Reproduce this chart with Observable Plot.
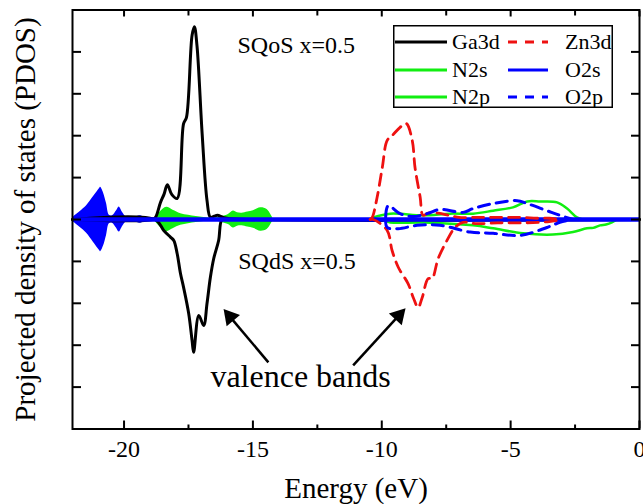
<!DOCTYPE html>
<html><head><meta charset="utf-8">
<script src="https://cdn.jsdelivr.net/npm/d3@7"></script>
<script src="https://cdn.jsdelivr.net/npm/@observablehq/plot@0.6"></script>
<style>
body{margin:0;background:#fff;}
#wrap{position:relative;width:643px;height:504px;font-family:"Liberation Serif",serif;}
#legend{position:absolute;left:393px;top:25px;}
</style></head><body><div id="wrap"></div>
<script>
// ---- data ----
const xTicks = [-20, -15, -10, -5, 0];
const xMinor = [-17.5, -12.5, -7.5, -2.5];
const yTicks = [-4, -3, -2, -1, 0, 1, 2, 3, 4];

const ga3dUpE = [-22, -18.9, -18.78, -18.59, -18.45, -18.32, -18.15, -17.94, -17.69, -17.58, -17.36, -17.27, -17.17, -16.97, -16.78, -16.65, -16.5, -16.38, -16.15, -15.9, 0];
const ga3dUpV = [0, 0, 0.05, 0.4, 0.6, 0.83, 0.6, 0.5, 2.29, 2.43, 4.4, 4.6, 4.15, 2.05, 0.45, 0.05, 0.08, 0.1, 0.05, 0.02, 0];
const ga3dDnE = [-22, -18.8, -18.46, -18.2, -18.07, -17.94, -17.81, -17.69, -17.49, -17.36, -17.3, -17.1, -16.91, -16.78, -16.65, -16.52, -16.33, -16.2, -16.0, 0];
const ga3dDnV = [0, 0, -0.26, -0.42, -0.5, -0.81, -1.29, -1.62, -2.25, -2.89, -3.17, -2.29, -2.53, -2.0, -1.38, -0.93, -0.5, 0, 0, 0];

const zn3dUpE = [-10.45, -10.37, -10.18, -9.98, -9.79, -9.6, -9.29, -9.05, -8.82, -8.71, -8.51, -8.4, -8.2, -7.8, -7.4, -7.0, -6.5, -6.0, -5.5, -5.0, -4.5, -4.0, -3.5, -3.1];
const zn3dUpV = [0, 0.05, 0.53, 1.24, 1.89, 2.0, 2.2, 2.29, 1.89, 1.24, 0.53, 0.1, 0.15, 0.15, 0.1, 0.05, 0.05, 0.05, 0.05, 0.05, 0.05, 0.03, 0.03, 0];
const zn3dDnE = [-10.45, -10.33, -9.79, -9.6, -9.36, -8.98, -8.78, -8.59, -8.43, -8.2, -8.05, -7.81, -7.47, -7.16, -6.85, -6.3, -5.5, -4.5, -3.5, -3.0];
const zn3dDnV = [0, 0, -0.26, -0.74, -1.14, -1.53, -1.86, -2.1, -1.86, -1.41, -1.41, -0.93, -0.5, -0.19, -0.07, -0.1, -0.08, -0.08, -0.05, 0];

const o2pUpE = [-9.85, -9.75, -9.29, -8.78, -8.24, -7.74, -6.84, -6.46, -5.68, -4.75, -4.36, -3.59, -3.09, -2.58];
const o2pUpV = [0.05, 0.33, 0.14, 0.07, 0.14, 0.24, 0.17, 0.26, 0.38, 0.45, 0.38, 0.21, 0.1, 0];
const o2pDnE = [-9.85, -9.79, -9.36, -8.63, -7.74, -6.57, -5.68, -4.64, -3.59, -3.09, -2.58];
const o2pDnV = [0, -0.19, -0.22, -0.14, -0.14, -0.3, -0.33, -0.38, -0.19, -0.07, 0];

const n2pUpE = [-10.33, -9.67, -8.4, -7.35, -6.46, -5.68, -4.91, -4.36, -3.86, -3.2, -2.81, -2.43, -2.2];
const n2pUpV = [0.05, 0.14, 0.1, 0.14, 0.14, 0.21, 0.29, 0.43, 0.43, 0.41, 0.26, 0.05, 0];
const n2pDnE = [-10.0, -9.67, -8.4, -6.46, -5.68, -4.52, -3.36, -2.58, -2.04, -1.8, -1.53, -1.3, -1.07, -0.88];
const n2pDnV = [0, -0.07, -0.07, -0.14, -0.21, -0.33, -0.36, -0.3, -0.21, -0.2, -0.14, -0.12, -0.07, 0];

const n2sE = [-18.85, -18.6, -18.35, -18.1, -17.8, -17.5, -17.2, -16.9, -16.6, -16.4, -16.2, -15.95, -15.76, -15.6, -15.42, -15.2, -14.98, -14.7, -14.45, -14.2];
const n2sA = [0, 0.18, 0.29, 0.22, 0.14, 0.1, 0.07, 0.05, 0.03, 0.04, 0.07, 0.12, 0.2, 0.16, 0.15, 0.18, 0.21, 0.28, 0.24, 0];

const o2sE = [-22, -21.96, -21.7, -21.46, -21.19, -20.95, -20.91, -20.8, -20.68, -20.57, -20.45, -20.29, -20.19, -20.05, -19.91, -19.7, -19.5, -19.36, -19.2, -19.0];
const o2sA = [0.03, 0.06, 0.19, 0.32, 0.54, 0.74, 0.77, 0.64, 0.38, 0.1, 0.09, 0.21, 0.3, 0.16, 0.06, 0.05, 0.07, 0.09, 0.05, 0.02];

const notes = ["SQoS x=0.5", "SQdS x=0.5", "valence bands"];
const noteX = [-15.6, -15.57, -16.65];
const noteY = [4.15, -0.99, -3.76];

const arrowTailX = [-14.40, -11.11];
const arrowTailY = [-3.41, -3.48];
const arrowTipX = [-16.19, -8.98];
const arrowTipY = [-2.1, -2.05];

const legendNames = ["Ga3d", "Zn3d", "N2s", "O2s", "N2p", "O2p"];
const legendColors = ["#000000", "#ee1111", "#11ee11", "#0000ff", "#11ee11", "#0000ff"];
const legendDashed = [false, true, false, false, false, true];

const xLabel = "Energy (eV)";
const yLabel = "Projected density of states (PDOS)";

// ---- layout ----
const W = 643, H = 504, mL = 72, mR = 4, mT = 9.5, mB = 75.5;
const xDom = [-22, 0], yDom = [-5, 5];
const kx = (W - mL - mR) / (xDom[1] - xDom[0]);
const ky = (H - mT - mB) / (yDom[1] - yDom[0]);

const GREEN = "#11ee11", BLUE = "#0000ff", RED = "#ee1111";
const DASH = "11,7";
const zip = (E, V) => E.map((e, i) => ({E: e, V: V[i]}));
const sym = (E, A) => E.map((e, i) => ({E: e, A: A[i]}));
const hyphen = d => (d < 0 ? "-" + Math.abs(d) : String(d));

const arrows = arrowTipX.map((_, i) => {
  const x1 = arrowTailX[i], y1 = arrowTailY[i], x2 = arrowTipX[i], y2 = arrowTipY[i];
  const f = 0.17;
  const hx = x2 - f * (x2 - x1), hy = y2 - f * (y2 - y1);
  const pdx = (x2 - x1) * kx, pdy = -(y2 - y1) * ky;
  const rot = Math.atan2(pdx, -pdy) * 180 / Math.PI;
  return {x1, y1, x2: hx, y2: hy, hx, hy, rot};
});

const notesData = notes.map((t, i) => ({t, x: noteX[i], y: noteY[i], size: i === 2 ? 32 : 24}));

const plot = Plot.plot({
  width: W, height: H,
  marginLeft: mL, marginRight: mR, marginTop: mT, marginBottom: mB,
  x: {domain: xDom},
  y: {domain: yDom},
  style: {fontFamily: "Liberation Serif", fontSize: "24px", color: "#000", background: "#fff", overflow: "visible"},
  marks: [
    Plot.areaY(sym(n2sE, n2sA), {x: "E", y1: d => -d.A, y2: "A", fill: GREEN, curve: "catmull-rom"}),
    Plot.areaY(sym(o2sE, o2sA), {x: "E", y1: d => -d.A, y2: "A", fill: BLUE, curve: "catmull-rom"}),
    Plot.line(zip(ga3dUpE, ga3dUpV), {x: "E", y: "V", stroke: "#000", strokeWidth: 3, curve: "catmull-rom"}),
    Plot.line(zip(ga3dDnE, ga3dDnV), {x: "E", y: "V", stroke: "#000", strokeWidth: 3, curve: "catmull-rom"}),
    Plot.line(zip(n2pUpE, n2pUpV), {x: "E", y: "V", stroke: GREEN, strokeWidth: 2.5, curve: "catmull-rom"}),
    Plot.line(zip(n2pDnE, n2pDnV), {x: "E", y: "V", stroke: GREEN, strokeWidth: 2.5, curve: "catmull-rom"}),
    Plot.ruleY([0], {stroke: BLUE, strokeWidth: 4.5}),
    Plot.line(zip(zn3dUpE, zn3dUpV), {x: "E", y: "V", stroke: RED, strokeWidth: 2.8, strokeDasharray: DASH, curve: "catmull-rom"}),
    Plot.line(zip(zn3dDnE, zn3dDnV), {x: "E", y: "V", stroke: RED, strokeWidth: 2.8, strokeDasharray: DASH, curve: "catmull-rom"}),
    Plot.line(zip(o2pUpE, o2pUpV), {x: "E", y: "V", stroke: BLUE, strokeWidth: 3, strokeDasharray: DASH, curve: "catmull-rom"}),
    Plot.line(zip(o2pDnE, o2pDnV), {x: "E", y: "V", stroke: BLUE, strokeWidth: 3, strokeDasharray: DASH, curve: "catmull-rom"}),
    Plot.link(arrows, {x1: "x1", y1: "y1", x2: "x2", y2: "y2", stroke: "#000", strokeWidth: 2.5}),
    Plot.dot(arrows, {x: "hx", y: "hy", symbol: "triangle", r: 6.5, fill: "#000", rotate: "rot"}),
    Plot.text(notesData, {x: "x", y: "y", text: "t", fontSize: "size", textAnchor: "start", lineAnchor: "middle"}),
    Plot.frame({stroke: "#000", strokeWidth: 2}),
    Plot.axisX({anchor: "bottom", ticks: xTicks, tickSize: 0, tickPadding: 11, tickFormat: hyphen, label: null, fontSize: 24}),
    Plot.axisX({anchor: "bottom", ticks: xTicks, tickSize: -8, tickFormat: () => "", label: null, strokeWidth: 2}),
    Plot.axisX({anchor: "bottom", ticks: xMinor, tickSize: -4, tickFormat: () => "", label: null, strokeWidth: 2}),
    Plot.axisX({anchor: "top", ticks: xTicks, tickSize: -6, tickFormat: () => "", label: null, strokeWidth: 2}),
    Plot.axisX({anchor: "top", ticks: xMinor, tickSize: -5, tickFormat: () => "", label: null, strokeWidth: 2}),
    Plot.axisY({anchor: "left", ticks: yTicks, tickSize: -9, tickFormat: () => "", label: null, strokeWidth: 2}),
    Plot.axisY({anchor: "right", ticks: yTicks, tickSize: -9, tickFormat: () => "", label: null, strokeWidth: 2}),
    Plot.text([xLabel], {frameAnchor: "bottom", dy: 60, fontSize: 29, lineAnchor: "middle", textAnchor: "middle"}),
    Plot.text([yLabel], {frameAnchor: "left", dx: -47, rotate: -90, fontSize: 29, lineAnchor: "middle", textAnchor: "middle"})
  ]
});

const wrap = document.getElementById("wrap");
wrap.appendChild(plot);

// ---- legend overlay ----
const LW = 220, LH = 83;
const leg = d3.select(wrap).append("svg").attr("id", "legend").attr("width", LW).attr("height", LH);
leg.append("rect").attr("x", 0.75).attr("y", 0.75).attr("width", LW - 1.5).attr("height", LH - 1.5)
  .attr("fill", "#fff").attr("stroke", "#000").attr("stroke-width", 1.5);
const colX = [[2, 54, 59], [115, 155, 172]];
const rowY = [17, 45, 72];
legendNames.forEach((n, i) => {
  const c = i % 2, r = Math.floor(i / 2);
  const [a, b, t] = colX[c];
  leg.append("line").attr("x1", a).attr("x2", b).attr("y1", rowY[r]).attr("y2", rowY[r])
    .attr("stroke", legendColors[i]).attr("stroke-width", 3)
    .attr("stroke-dasharray", legendDashed[i] ? "9,8" : null);
  leg.append("text").attr("x", t).attr("y", rowY[r] + 7).text(n)
    .attr("font-family", "Liberation Serif").attr("font-size", 22).attr("fill", "#000");
});
</script></body></html>
